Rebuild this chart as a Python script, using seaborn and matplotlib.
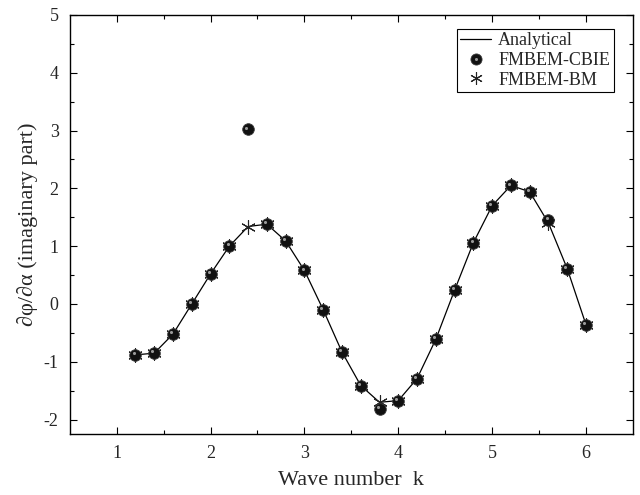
import numpy as np
import pandas as pd
import matplotlib
matplotlib.use('Agg')
import matplotlib.pyplot as plt
import matplotlib.transforms as mtrans
from matplotlib.lines import Line2D
from matplotlib.legend_handler import HandlerTuple
import seaborn as sns

# Data
k = [1.2, 1.4, 1.6, 1.8, 2.0, 2.2, 2.4, 2.6, 2.8, 3.0, 3.2, 3.4, 3.6,
     3.8, 4.0, 4.2, 4.4, 4.6, 4.8, 5.0, 5.2, 5.4, 5.6, 5.8, 6.0]
analytical = [-0.88, -0.85, -0.52, 0.00, 0.52, 1.00, 1.34, 1.38, 1.09, 0.58,
              -0.10, -0.83, -1.41, -1.70, -1.67, -1.29, -0.61, 0.24, 1.06,
              1.70, 2.05, 1.94, 1.40, 0.61, -0.36]
cbie = [-0.88, -0.85, -0.52, 0.00, 0.52, 1.00, 3.02, 1.38, 1.09, 0.58,
        -0.10, -0.83, -1.41, -1.81, -1.67, -1.29, -0.61, 0.24, 1.06,
        1.70, 2.05, 1.94, 1.45, 0.61, -0.36]
bm = [-0.88, -0.85, -0.52, 0.00, 0.52, 1.00, 1.34, 1.38, 1.09, 0.58,
      -0.10, -0.83, -1.41, -1.70, -1.67, -1.29, -0.61, 0.24, 1.06,
      1.70, 2.05, 1.94, 1.40, 0.61, -0.36]

df = pd.DataFrame({'k': k, 'Analytical': analytical,
                   'FMBEM-CBIE': cbie, 'FMBEM-BM': bm})

sns.set_style('ticks')
plt.rcParams['font.family'] = ['Liberation Serif', 'DejaVu Serif']
plt.rcParams['axes.unicode_minus'] = False

fig = plt.figure(figsize=(6.4, 4.95), dpi=100)
ax = fig.add_axes([0.109, 0.123, 0.880, 0.847])

sns.lineplot(data=df, x='k', y='Analytical', ax=ax, color='black',
             linewidth=0.9, zorder=2, legend=False)

star = (6, 2, 0)
sns.scatterplot(data=df, x='k', y='FMBEM-BM', ax=ax, marker=star, s=100,
                color='#222222', linewidth=0.8, zorder=3, legend=False)

sns.scatterplot(data=df, x='k', y='FMBEM-CBIE', ax=ax, marker='o', s=70,
                color='#111111', edgecolor='#3a3a3a', linewidth=0.6,
                zorder=4, legend=False)
# small highlight to imitate the shaded sphere markers
hl = mtrans.offset_copy(ax.transData, fig=fig, x=-1.8, y=1.8, units='dots')
ax.scatter(df['k'], df['FMBEM-CBIE'], s=5, color='#9a9a9a',
           linewidth=0, zorder=5, transform=hl)

ax.set_xlim(0.5, 6.5)
ax.set_ylim(-2.25, 5)
ax.set_xticks([1, 2, 3, 4, 5, 6])
ax.set_yticks([-2, -1, 0, 1, 2, 3, 4, 5])
ax.set_xticks(np.arange(1.5, 6.5, 1.0), minor=True)
ax.set_yticks(np.arange(-1.5, 5.0, 1.0), minor=True)
ax.tick_params(which='both', direction='in', top=True, right=True,
               labelsize=13, width=0.8, color='black', pad=8)
ax.tick_params(which='major', length=5)
ax.tick_params(which='minor', length=3)
for sp in ax.spines.values():
    sp.set_linewidth(1.0)
    sp.set_color('black')

ax.set_xlabel('Wave number  k', fontsize=16, labelpad=6)
ax.set_ylabel('∂φ/∂α (imaginary part)', fontsize=16, labelpad=4)

h_line = Line2D([], [], color='black', linewidth=0.9)
h_ball = Line2D([], [], marker='o', linestyle='none', markersize=8,
                markerfacecolor='#111111', markeredgecolor='#3a3a3a',
                markeredgewidth=0.6)
h_hl = Line2D([], [], marker='o', linestyle='none', markersize=2.2,
              markerfacecolor='#9a9a9a', markeredgewidth=0)
h_star = Line2D([], [], marker=star, linestyle='none', markersize=9,
                color='#222222', markeredgewidth=0.8)
leg = ax.legend([h_line, (h_ball, h_hl), h_star],
                ['Analytical', 'FMBEM-CBIE', 'FMBEM-BM'],
                handler_map={tuple: HandlerTuple(ndivide=1)},
                loc='upper right', bbox_to_anchor=(0.966, 0.967),
                fontsize=13, frameon=True, fancybox=False, framealpha=1,
                edgecolor='black', borderpad=0.2, labelspacing=0.15,
                handlelength=1.7, handletextpad=0.4, borderaxespad=0)
leg.get_frame().set_linewidth(0.8)

fig.savefig('out.png', dpi=100)
